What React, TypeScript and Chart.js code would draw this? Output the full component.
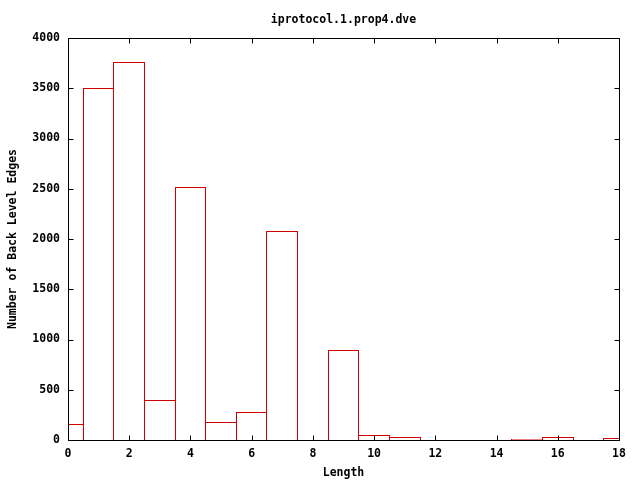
import React, { useEffect, useRef } from "react";
import { Chart, registerables } from "chart.js";

Chart.register(...registerables);

const TITLE = "iprotocol.1.prop4.dve";
const X_LABEL = "Length";
const Y_LABEL = "Number of Back Level Edges";

const lengths = [0, 1, 2, 3, 4, 5, 6, 7, 8, 9, 10, 11, 12, 13, 14, 15, 16, 17, 18];
const backLevelEdges = [160, 3500, 3760, 400, 2520, 180, 280, 2080, 0, 900, 50, 25, 0, 0, 0, 10, 30, 0, 20];

const X_MIN = 0;
const X_MAX = 18;
const X_STEP = 2;
const Y_MIN = 0;
const Y_MAX = 4000;
const Y_STEP = 500;

const FONT_FAMILY = "'DejaVu Sans Mono', 'Liberation Mono', monospace";
const FONT_SIZE = 11.5;
const BAR_COLOR = "#d00000";

// Snap bar edges to whole pixels so that shared edges are crisp 1px lines.
const snapBars = {
  id: "snapBars",
  afterDatasetsUpdate(chart: any) {
    chart.data.datasets.forEach((_: any, di: number) => {
      const meta = chart.getDatasetMeta(di);
      meta.data.forEach((el: any) => {
        const l = Math.round(el.x - el.width / 2);
        const r = Math.round(el.x + el.width / 2);
        el.x = (l + r) / 2;
        el.width = r - l;
        el.y = Math.round(el.y);
        el.base = Math.round(el.base);
      });
    });
  },
};

const frame = {
  id: "gnuplotFrame",
  afterDraw(chart: any) {
    const { ctx, chartArea, scales } = chart;
    const { left, right, top, bottom } = chartArea;
    const L = Math.round(left) + 0.5;
    const R = Math.round(right) + 0.5;
    const T = Math.round(top) + 0.5;
    const B = Math.round(bottom) + 0.5;
    const tick = 5;
    ctx.save();
    ctx.strokeStyle = "#000";
    ctx.lineWidth = 1;
    ctx.beginPath();
    ctx.rect(L, T, R - L, B - T);
    for (let v = Y_MIN; v <= Y_MAX; v += Y_STEP) {
      const y = Math.round(scales.y.getPixelForValue(v)) + 0.5;
      ctx.moveTo(L, y);
      ctx.lineTo(L + tick, y);
      ctx.moveTo(R, y);
      ctx.lineTo(R - tick, y);
    }
    for (let v = X_MIN; v <= X_MAX; v += X_STEP) {
      const x = Math.round(scales.x.getPixelForValue(v)) + 0.5;
      ctx.moveTo(x, B);
      ctx.lineTo(x, B - tick);
      ctx.moveTo(x, T);
      ctx.lineTo(x, T + tick);
    }
    ctx.stroke();

    ctx.fillStyle = "#000";
    ctx.font = `bold ${FONT_SIZE}px ${FONT_FAMILY}`;
    ctx.textAlign = "center";
    ctx.textBaseline = "middle";
    const cx = (left + right) / 2;
    ctx.fillText(TITLE, cx, 20);
    ctx.fillText(X_LABEL, cx, 473);
    ctx.translate(13, (top + bottom) / 2);
    ctx.rotate(-Math.PI / 2);
    ctx.fillText(Y_LABEL, 0, 0);
    ctx.restore();
  },
};

export default function App() {
  const canvasRef = useRef<HTMLCanvasElement | null>(null);

  useEffect(() => {
    const canvas = canvasRef.current;
    if (!canvas) return;
    const unitPx = 551 / (X_MAX - X_MIN);
    const chart = new Chart(canvas, {
      type: "bar",
      data: {
        datasets: [
          {
            data: lengths.map((x, i) => ({ x, y: backLevelEdges[i] })),
            backgroundColor: "rgba(0,0,0,0)",
            borderColor: BAR_COLOR,
            borderWidth: 1,
            borderSkipped: "start",
            barPercentage: 1 + 1 / unitPx,
            categoryPercentage: 1,
            clip: 0,
          } as any,
        ],
      },
      options: {
        responsive: false,
        animation: false,
        events: [],
        layout: { padding: { left: 0, right: 21, top: 38, bottom: 0 } },
        plugins: {
          legend: { display: false },
          title: { display: false },
          tooltip: { enabled: false },
        },
        scales: {
          x: {
            type: "linear",
            min: X_MIN,
            max: X_MAX,
            offset: false,
            grid: { display: false, drawTicks: false },
            border: { display: false },
            ticks: {
              stepSize: X_STEP,
              padding: 7,
              color: "#000",
              maxRotation: 0,
              callback: (v: any) => String(v),
              font: { family: FONT_FAMILY, size: FONT_SIZE, weight: "bold" },
            },
            afterFit(scale: any) {
              scale.height = 40;
            },
          },
          y: {
            min: Y_MIN,
            max: Y_MAX,
            grid: { display: false, drawTicks: false },
            border: { display: false },
            ticks: {
              stepSize: Y_STEP,
              padding: 8,
              color: "#000",
              callback: (v: any) => String(v),
              font: { family: FONT_FAMILY, size: FONT_SIZE, weight: "bold" },
            },
            afterFit(scale: any) {
              scale.width = 68;
            },
          },
        },
      } as any,
      plugins: [snapBars, frame],
    });
    return () => chart.destroy();
  }, []);

  return (
    <div style={{ position: "absolute", left: 0, top: 0, width: 640, height: 480, background: "#fff" }}>
      <canvas ref={canvasRef} width={640} height={480} style={{ display: "block" }} />
    </div>
  );
}
